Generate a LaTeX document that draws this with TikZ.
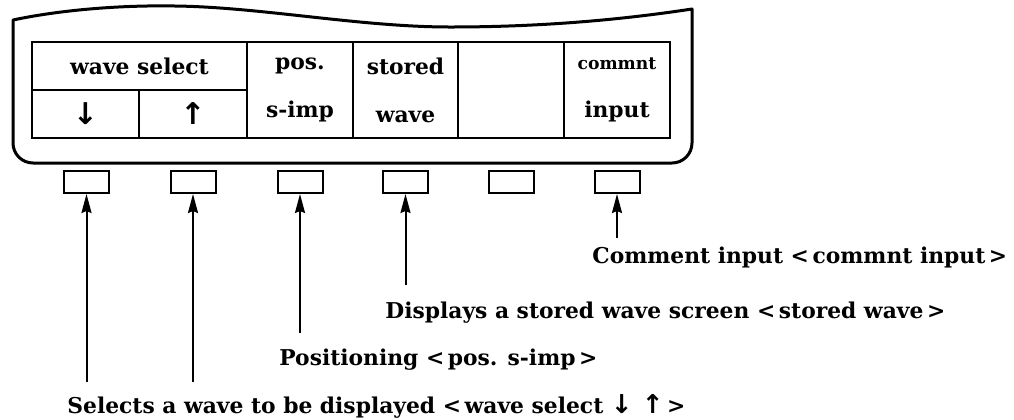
\documentclass[tikz,border=0pt]{standalone}
\usepackage{fontspec}
\setmainfont{DejaVu Serif}
\newfontfamily\arrowfont{DejaVu Sans}
\usetikzlibrary{arrows.meta,positioning}

\begin{document}
\begin{tikzpicture}[
  x=0.5pt, y=-0.5pt,
  font=\fontsize{10.9}{24}\selectfont\bfseries,
  frame/.style={line width=1.5pt, line join=round},
  cell/.style={draw, line width=1pt, inner sep=0pt, align=center},
  key/.style={draw, line width=1pt, minimum width=22.5pt, minimum height=11pt, inner sep=0pt},
  pointer/.style={line width=1pt, -{Stealth[length=9.5pt, width=5pt, inset=1pt]}},
  label/.style={anchor=base west, inner sep=0pt}
]
\useasboundingbox (0,0) rectangle (1014,419);

% Screen outline
\draw[frame] (13,20) .. controls (60,10) and (120,5) .. (175,6)
  .. controls (260,7) and (360,27) .. (450,27)
  .. controls (540,27) and (620,20) .. (692,9)
  [rounded corners=10pt] -- (692,163) -- (13,163) [sharp corners] -- cycle;

% Soft key menu
\node[cell, minimum width=107.5pt, minimum height=24pt] (wsel) at (139.5,66) {wave select};
\node[cell, minimum width=53.5pt, minimum height=24pt] (down) at (85.5,114) {\arrowfont\fontsize{15}{15}\selectfont ↓};
\node[cell, minimum width=54pt, minimum height=24pt] (up) at (193,114) {\arrowfont\fontsize{15}{15}\selectfont ↑};
\node[cell, minimum width=53pt, minimum height=48pt] (pos) at (300,90) {pos.\\s-imp};
\node[cell, minimum width=52.5pt, minimum height=48pt] (stored) at (405.5,90) {stored\\wave};
\node[cell, minimum width=53pt, minimum height=48pt] (blank) at (511,90) {};
\node[cell, minimum width=53pt, minimum height=48pt] (commnt) at (617,90) {{\fontsize{8.6}{24}\selectfont commnt}\\input};

% Keys
\node[key] (k1) at (86.5,182) {};
\node[key] (k2) at (193,182) {};
\node[key] (k3) at (300,182) {};
\node[key] (k4) at (405.5,182) {};
\node[key] (k5) at (511,182) {};
\node[key] (k6) at (617,182) {};

% Descriptions
\node[label] (dcm) at (592,263) {Comment input <\,commnt input\,>};
\node[label] (dst) at (385,318) {Displays a stored wave screen <\,stored wave\,>};
\node[label] (dpo) at (279,365) {Positioning <\,pos. s-imp\,>};
\node[label] (dws) at (67,413) {Selects a wave to be displayed <\,wave select {\arrowfont\fontsize{13}{13}\selectfont ↓ ↑}\,>};

\coordinate (e1) at (86.5,382);
\coordinate (e2) at (193,382);
\coordinate (e3) at (300,333);
\coordinate (e4) at (405.5,285);
\coordinate (e6) at (617,238);

% Pointers to keys
\draw[pointer] (e1) -- (k1.south);
\draw[pointer] (e2) -- (k2.south);
\draw[pointer] (e3) -- (k3.south);
\draw[pointer] (e4) -- (k4.south);
\draw[pointer] (e6) -- (k6.south);
\end{tikzpicture}
\end{document}
